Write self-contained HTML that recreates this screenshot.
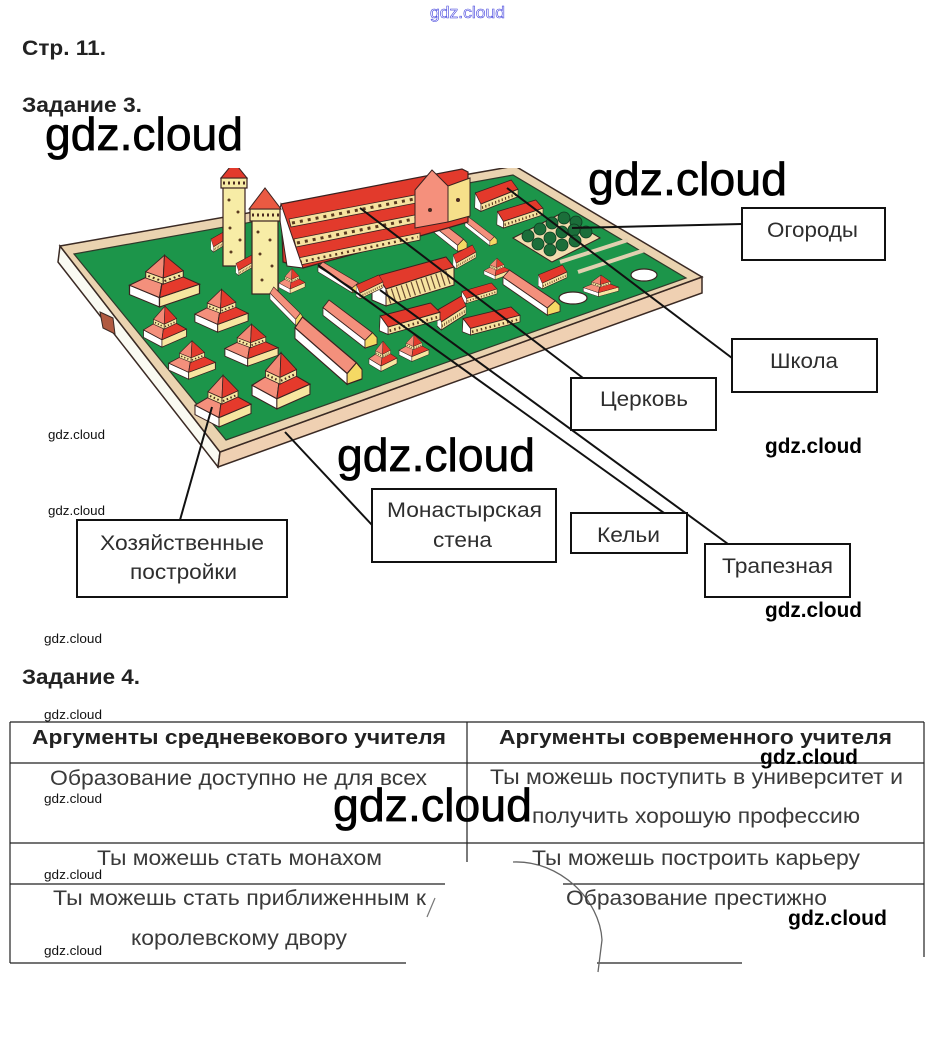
<!DOCTYPE html>
<html><head><meta charset="utf-8">
<style>
html,body{margin:0;padding:0;background:#fff;}
body{width:935px;height:1047px;overflow:hidden;}
svg{display:block;}
text{font-family:"Liberation Sans","DejaVu Sans",sans-serif;}
</style></head><body>
<svg width="935" height="1047" viewBox="0 0 935 1047" xmlns="http://www.w3.org/2000/svg">
<defs>
<clipPath id="pic"><rect x="40" y="168" width="680" height="310"/></clipPath>
<symbol id="hh" viewBox="0 0 60 56" preserveAspectRatio="none" overflow="visible">
  <polygon points="2,34 26,46 26,55 2,43" fill="#ffffff" stroke="#3a2220" stroke-width="1"/>
  <polygon points="26,46 58,33 58,42 26,55" fill="#f7e6a0" stroke="#3a2220" stroke-width="1"/>
  <polygon points="2,34 26,46 30,18" fill="#f4907c" stroke="#3a2220" stroke-width="1"/>
  <polygon points="26,46 58,33 30,18" fill="#e53a2c" stroke="#3a2220" stroke-width="1"/>
  <polygon points="15,27 29,33 29,27 15,21" fill="#f7e6a0" stroke="#3a2220" stroke-width="0.8"/>
  <polygon points="29,33 45,26 45,20 29,27" fill="#f7e6a0" stroke="#3a2220" stroke-width="0.8"/>
  <line x1="17" y1="25" x2="28" y2="30" stroke="#4a2a20" stroke-width="2" stroke-dasharray="1.5 2.5"/>
  <line x1="30" y1="30" x2="44" y2="24" stroke="#4a2a20" stroke-width="2" stroke-dasharray="1.5 2.5"/>
  <polygon points="15,21 29,27 30,5" fill="#f28a76" stroke="#3a2220" stroke-width="0.8"/>
  <polygon points="29,27 45,20 30,5" fill="#e23a2c" stroke="#3a2220" stroke-width="0.8"/>
</symbol>
<symbol id="lb" viewBox="0 0 72 52" preserveAspectRatio="none" overflow="visible">
  <polygon points="8,0 66,34 56,42 0,8" fill="#f3907c" stroke="#3a2220" stroke-width="1"/>
  <polygon points="0,8 56,42 56,50 0,16" fill="#ffffff" stroke="#3a2220" stroke-width="1"/>
  <polygon points="56,42 66,34 72,39 72,46 56,50" fill="#f5d964" stroke="#3a2220" stroke-width="1"/>
</symbol>
<symbol id="rb" viewBox="0 0 80 40" preserveAspectRatio="none" overflow="visible">
  <polygon points="4,14 68,0 80,10 14,26" fill="#e3392b" stroke="#3a2220" stroke-width="1"/>
  <polygon points="14,26 80,10 80,18 14,34" fill="#f7e3a0" stroke="#3a2220" stroke-width="1"/>
  <line x1="16" y1="30" x2="78" y2="15" stroke="#5a3a20" stroke-width="3" stroke-dasharray="2 4"/>
  <polygon points="4,14 14,26 14,34 3,30" fill="#ffffff" stroke="#3a2220" stroke-width="1"/>
</symbol>
</defs>

<!-- header texts -->
<text x="430" y="18" font-size="17" fill="#ffffff" stroke="#4444dd" stroke-width="0.6" textLength="75" lengthAdjust="spacingAndGlyphs">gdz.cloud</text>
<text x="22" y="55" font-size="21" font-weight="bold" fill="#222" textLength="84" lengthAdjust="spacingAndGlyphs">Стр. 11.</text>
<text x="22" y="112" font-size="21" font-weight="bold" fill="#222" textLength="120" lengthAdjust="spacingAndGlyphs">Задание 3.</text>

<!-- picture -->
<g clip-path="url(#pic)">
  <polygon points="60,246 220,452 218,467 58,262" fill="#fafaf2" stroke="#3a2a24" stroke-width="1.5"/>
  <polygon points="220,452 702,277 702,293 218,467" fill="#efd0b2" stroke="#3a2a24" stroke-width="1.5"/>
  <polygon points="60,246 515,166 702,277 220,452" fill="#ead3b0" stroke="#3a2a24" stroke-width="1.5"/>
  <polygon points="74,254 513,175 686,278 226,440" fill="#1c954a" stroke="#2e3a2a" stroke-width="1.2"/>
  <polygon points="100,312 113,318 115,334 103,328" fill="#b05a40" stroke="#3a2a24" stroke-width="1"/>
  <!-- fences / strips right -->
  <line x1="560" y1="262" x2="628" y2="240" stroke="#e0d0b0" stroke-width="4"/>
  <line x1="578" y1="272" x2="645" y2="250" stroke="#e0d0b0" stroke-width="4"/>
  <!-- garden -->
  <polygon points="513,238 560,214 600,238 552,262" fill="#f1dcae" stroke="#3a2220" stroke-width="1"/>
  <g fill="#1b6e3a" stroke="#0e3a20" stroke-width="0.8">
    <circle cx="528" cy="236" r="6"/><circle cx="540" cy="229" r="6"/><circle cx="552" cy="223" r="6"/><circle cx="564" cy="218" r="6"/><circle cx="576" cy="222" r="6"/>
    <circle cx="538" cy="244" r="6"/><circle cx="550" cy="238" r="6"/><circle cx="562" cy="232" r="6"/><circle cx="574" cy="230" r="6"/><circle cx="586" cy="232" r="6"/>
    <circle cx="550" cy="250" r="6"/><circle cx="562" cy="245" r="6"/><circle cx="575" cy="241" r="6"/>
  </g>
  <!-- school and right buildings -->
  <use href="#rb" x="473" y="180" width="45" height="37"/>
  <use href="#rb" x="495" y="200" width="48" height="33"/>
  <use href="#lb" x="425" y="213" width="42" height="40"/>
  <use href="#lb" x="465" y="217" width="32" height="30"/>
  <use href="#rb" x="452" y="245" width="24" height="28"/>
  <!-- church -->
  <polygon points="281,204 462,169 468,172 468,222 420,236 303,268 283,262" fill="#e23a2c" stroke="#3a2220" stroke-width="1.2"/>
  <polygon points="289,219 462,186 463,194 291,227" fill="#f7e3a0" stroke="#3a2220" stroke-width="0.8"/>
  <line x1="292" y1="223" x2="460" y2="190" stroke="#5a3a20" stroke-width="3" stroke-dasharray="3 5"/>
  <polygon points="294,239 445,209 445,217 296,247" fill="#f7e3a0" stroke="#3a2220" stroke-width="0.8"/>
  <line x1="297" y1="243" x2="443" y2="213" stroke="#5a3a20" stroke-width="3" stroke-dasharray="3 5"/>
  <polygon points="298,258 420,233 420,240 300,265" fill="#f7e3a0" stroke="#3a2220" stroke-width="0.8"/>
  <line x1="300" y1="262" x2="418" y2="237" stroke="#5a3a20" stroke-width="2.5" stroke-dasharray="2 4"/>
  <polygon points="281,204 303,268 287,266 279,214" fill="#ffffff" stroke="#3a2220" stroke-width="1"/>
  <polygon points="415,190 432,170 448,186 448,222 415,228" fill="#f5907c" stroke="#3a2220" stroke-width="1"/>
  <polygon points="448,186 470,178 470,216 448,222" fill="#f6e08a" stroke="#3a2220" stroke-width="1"/>
  <circle cx="430" cy="210" r="2" fill="#4a2a20"/><circle cx="458" cy="200" r="2" fill="#4a2a20"/>
  <!-- towers -->
  <use href="#rb" x="210" y="230" width="20" height="26"/>
  <rect x="223" y="186" width="22" height="80" fill="#f7eca6" stroke="#3a2220" stroke-width="1.2"/>
  <rect x="221" y="178" width="26" height="10" fill="#f7eca6" stroke="#3a2220" stroke-width="1.2"/>
  <line x1="223" y1="183" x2="246" y2="183" stroke="#4a2a20" stroke-width="3" stroke-dasharray="2 3"/>
  <polygon points="221,178 234,162 247,178" fill="#e23a2c" stroke="#3a2220" stroke-width="1"/>
  <g fill="#5a3a20"><circle cx="229" cy="200" r="1.5"/><circle cx="238" cy="212" r="1.5"/><circle cx="230" cy="228" r="1.5"/><circle cx="240" cy="240" r="1.5"/><circle cx="231" cy="252" r="1.5"/></g>
  <use href="#rb" x="235" y="255" width="20" height="24"/>
  <rect x="252" y="220" width="26" height="74" fill="#f7eca6" stroke="#3a2220" stroke-width="1.2"/>
  <rect x="250" y="209" width="30" height="12" fill="#f7eca6" stroke="#3a2220" stroke-width="1.2"/>
  <line x1="252" y1="215" x2="279" y2="215" stroke="#4a2a20" stroke-width="3" stroke-dasharray="2 3"/>
  <polygon points="249,209 265,188 281,209" fill="#ea5a42" stroke="#3a2220" stroke-width="1"/>
  <g fill="#5a3a20"><circle cx="258" cy="232" r="1.5"/><circle cx="270" cy="240" r="1.5"/><circle cx="260" cy="254" r="1.5"/><circle cx="272" cy="266" r="1.5"/><circle cx="262" cy="280" r="1.5"/></g>
  <!-- refectory -->
  <use href="#lb" x="318" y="262" width="44" height="32"/>
  <polygon points="377,276 446,257 454,267 386,289" fill="#e23a2c" stroke="#3a2220" stroke-width="1"/>
  <polygon points="386,289 454,267 454,285 386,306" fill="#f7e3a0" stroke="#3a2220" stroke-width="1"/>
  <line x1="388" y1="297" x2="452" y2="276" stroke="#6a4a30" stroke-width="14" stroke-dasharray="1.2 4"/>
  <polygon points="372,283 377,276 386,289 386,306 372,300" fill="#ffffff" stroke="#3a2220" stroke-width="1"/>
  <!-- middle buildings -->
  <use href="#hh" x="483" y="256" width="28" height="24"/>
  <use href="#rb" x="537" y="265" width="30" height="28"/>
  <use href="#lb" x="503" y="270" width="57" height="47"/>
  <use href="#hh" x="582" y="273" width="38" height="24"/>
  <use href="#rb" x="355" y="275" width="28" height="28"/>
  <use href="#hh" x="278" y="266" width="28" height="28"/>
  <use href="#rb" x="460" y="283" width="37" height="24"/>
  <use href="#lb" x="270" y="287" width="33" height="40"/>
  <use href="#rb" x="436" y="296" width="30" height="40"/>
  <use href="#lb" x="323" y="300" width="54" height="50"/>
  <use href="#rb" x="377" y="303" width="63" height="37"/>
  <use href="#rb" x="460" y="307" width="60" height="33"/>
  <use href="#lb" x="295" y="317" width="67" height="70"/>
  <use href="#hh" x="398" y="332" width="32" height="30"/>
  <use href="#hh" x="368" y="338" width="30" height="34"/>
  <ellipse cx="573" cy="298" rx="14" ry="6" fill="#fff" stroke="#3a2220" stroke-width="1.2"/>
  <ellipse cx="644" cy="275" rx="13" ry="6" fill="#fff" stroke="#3a2220" stroke-width="1.2"/>
  <!-- left grid houses -->
  <use href="#hh" x="127" y="250" width="75" height="58"/>
  <use href="#hh" x="193" y="285" width="57" height="48"/>
  <use href="#hh" x="142" y="302" width="46" height="46"/>
  <use href="#hh" x="223" y="320" width="57" height="47"/>
  <use href="#hh" x="167" y="337" width="50" height="43"/>
  <use href="#hh" x="250" y="347" width="62" height="63"/>
  <use href="#hh" x="193" y="370" width="60" height="58"/>
</g>

<!-- connectors -->
<g stroke="#111" stroke-width="2" fill="none">
  <line x1="742" y1="224" x2="572" y2="228"/>
  <line x1="507" y1="188" x2="732" y2="358"/>
  <line x1="360" y1="208" x2="583" y2="378"/>
  <line x1="318" y1="265" x2="664" y2="513"/>
  <line x1="380" y1="290" x2="728" y2="544"/>
  <line x1="212" y1="407" x2="180" y2="520"/>
  <line x1="285" y1="432" x2="372" y2="525"/>
</g>

<!-- label boxes -->
<g fill="#fff" stroke="#111" stroke-width="2">
  <rect x="742" y="208" width="143" height="52"/>
  <rect x="732" y="339" width="145" height="53"/>
  <rect x="571" y="378" width="145" height="52"/>
  <rect x="77" y="520" width="210" height="77"/>
  <rect x="372" y="489" width="184" height="73"/>
  <rect x="571" y="513" width="116" height="40"/>
  <rect x="705" y="544" width="145" height="53"/>
</g>
<g font-size="21" fill="#2e2e2e">
  <text x="767" y="237" textLength="91" lengthAdjust="spacingAndGlyphs">Огороды</text>
  <text x="770" y="368" textLength="68" lengthAdjust="spacingAndGlyphs">Школа</text>
  <text x="600" y="406" textLength="88" lengthAdjust="spacingAndGlyphs">Церковь</text>
  <text x="100" y="550" textLength="164" lengthAdjust="spacingAndGlyphs">Хозяйственные</text>
  <text x="130" y="579" textLength="107" lengthAdjust="spacingAndGlyphs">постройки</text>
  <text x="387" y="517" textLength="155" lengthAdjust="spacingAndGlyphs">Монастырская</text>
  <text x="433" y="547" textLength="59" lengthAdjust="spacingAndGlyphs">стена</text>
  <text x="597" y="542" textLength="63" lengthAdjust="spacingAndGlyphs">Кельи</text>
  <text x="722" y="573" textLength="111" lengthAdjust="spacingAndGlyphs">Трапезная</text>
</g>

<text x="22" y="684" font-size="21" font-weight="bold" fill="#222" textLength="118" lengthAdjust="spacingAndGlyphs">Задание 4.</text>

<!-- table -->
<g stroke="#222" stroke-width="1.2" fill="none">
  <line x1="10" y1="722" x2="924" y2="722"/>
  <line x1="10" y1="763" x2="924" y2="763"/>
  <line x1="10" y1="843" x2="924" y2="843"/>
  <line x1="10" y1="884" x2="445" y2="884"/>
  <line x1="563" y1="884" x2="924" y2="884"/>
  <line x1="10" y1="963" x2="406" y2="963"/>
  <line x1="597" y1="963" x2="742" y2="963"/>
  <line x1="10" y1="722" x2="10" y2="963"/>
  <line x1="467" y1="722" x2="467" y2="862"/>
  <line x1="924" y1="722" x2="924" y2="957"/>
</g>
<path d="M513 862 C560 860 600 900 602 940 L598 972" stroke="#666" stroke-width="1.3" fill="none"/>
<line x1="435" y1="898" x2="427" y2="917" stroke="#777" stroke-width="1.2"/>

<g font-size="20" font-weight="bold" fill="#222">
  <text x="32" y="744" textLength="414" lengthAdjust="spacingAndGlyphs">Аргументы средневекового учителя</text>
  <text x="499" y="744" textLength="393" lengthAdjust="spacingAndGlyphs">Аргументы современного учителя</text>
</g>
<g font-size="21" fill="#3a3a3a">
  <text x="50" y="785" textLength="377" lengthAdjust="spacingAndGlyphs">Образование доступно не для всех</text>
  <text x="490" y="784" textLength="413" lengthAdjust="spacingAndGlyphs">Ты можешь поступить в университет и</text>
  <text x="532" y="823" textLength="328" lengthAdjust="spacingAndGlyphs">получить хорошую профессию</text>
  <text x="97" y="865" textLength="285" lengthAdjust="spacingAndGlyphs">Ты можешь стать монахом</text>
  <text x="532" y="865" textLength="328" lengthAdjust="spacingAndGlyphs">Ты можешь построить карьеру</text>
  <text x="53" y="905" textLength="373" lengthAdjust="spacingAndGlyphs">Ты можешь стать приближенным к</text>
  <text x="566" y="905" textLength="261" lengthAdjust="spacingAndGlyphs">Образование престижно</text>
  <text x="131" y="945" textLength="216" lengthAdjust="spacingAndGlyphs">королевскому двору</text>
</g>

<!-- watermarks -->
<g font-size="46" fill="#000" stroke="#000" stroke-width="0.7">
  <text x="45" y="150" textLength="198" lengthAdjust="spacingAndGlyphs">gdz.cloud</text>
  <text x="588" y="195" textLength="199" lengthAdjust="spacingAndGlyphs">gdz.cloud</text>
  <text x="337" y="471" textLength="198" lengthAdjust="spacingAndGlyphs">gdz.cloud</text>
  <text x="333" y="821" textLength="199" lengthAdjust="spacingAndGlyphs">gdz.cloud</text>
</g>
<g font-size="21" font-weight="bold" fill="#000">
  <text x="765" y="453" textLength="97" lengthAdjust="spacingAndGlyphs">gdz.cloud</text>
  <text x="765" y="617" textLength="97" lengthAdjust="spacingAndGlyphs">gdz.cloud</text>
  <text x="760" y="764" textLength="98" lengthAdjust="spacingAndGlyphs">gdz.cloud</text>
  <text x="788" y="925" textLength="99" lengthAdjust="spacingAndGlyphs">gdz.cloud</text>
</g>
<g font-size="13" fill="#111">
  <text x="48" y="439" textLength="57" lengthAdjust="spacingAndGlyphs">gdz.cloud</text>
  <text x="48" y="515" textLength="57" lengthAdjust="spacingAndGlyphs">gdz.cloud</text>
  <text x="44" y="643" textLength="58" lengthAdjust="spacingAndGlyphs">gdz.cloud</text>
  <text x="44" y="719" textLength="58" lengthAdjust="spacingAndGlyphs">gdz.cloud</text>
  <text x="44" y="803" textLength="58" lengthAdjust="spacingAndGlyphs">gdz.cloud</text>
  <text x="44" y="879" textLength="58" lengthAdjust="spacingAndGlyphs">gdz.cloud</text>
  <text x="44" y="955" textLength="58" lengthAdjust="spacingAndGlyphs">gdz.cloud</text>
</g>
</svg>
</body></html>
